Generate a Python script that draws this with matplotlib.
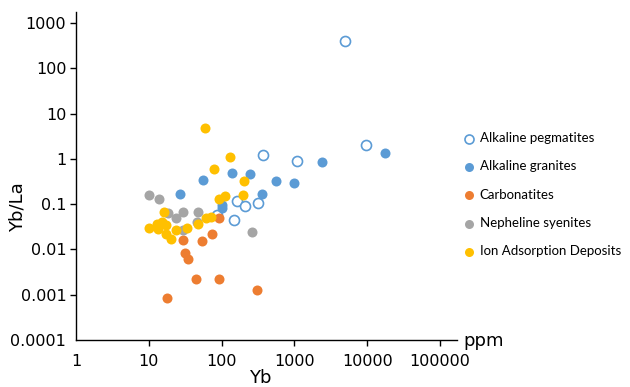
import numpy as np
import matplotlib.pyplot as plt

# Yb (ppm) vs Yb/La for REE deposit types
peg_yb = [5000, 370, 1100, 9500, 163, 210, 320, 149, 87]
peg_ratio = [400, 1.2, 0.88, 2.0, 0.12, 0.091, 0.107, 0.044, 0.057]

gran_yb = [2400, 17500, 560, 1000, 360, 139, 246, 55, 26.6, 101, 101]
gran_ratio = [0.85, 1.35, 0.32, 0.29, 0.17, 0.48, 0.46, 0.34, 0.17, 0.095, 0.083]

carb_yb = [92, 29.8, 53, 74.5, 31.4, 34.2, 45, 93, 303, 17.6]
carb_ratio = [0.049, 0.0161, 0.0151, 0.0215, 0.0082, 0.006, 0.0022, 0.0022, 0.00125, 0.00083]

neph_yb = [10.1, 13.9, 29.2, 23.6, 18.2, 48, 45.5, 29.5, 259]
neph_ratio = [0.16, 0.13, 0.066, 0.049, 0.063, 0.066, 0.041, 0.027, 0.024]

ion_yb = [59, 130, 79, 205, 199, 93, 111, 16.3, 10.1, 12.8, 15.0, 17.2, 13.3,
          17.1, 20.2, 23.4, 33.2, 48, 61, 71.5]
ion_ratio = [4.8, 1.1, 0.6, 0.33, 0.16, 0.13, 0.15, 0.068, 0.03, 0.036, 0.04,
             0.035, 0.028, 0.0215, 0.0172, 0.027, 0.03, 0.037, 0.05, 0.051]

blue = '#5B9BD5'
orange = '#ED7D31'
gray = '#A5A5A5'
yellow = '#FFC000'

fig = plt.figure(figsize=(6.3, 3.87), dpi=100)
ax = fig.add_axes([76 / 630, 47 / 387, 381 / 630, 328 / 387])

ms = 52
ax.scatter(peg_yb, peg_ratio, s=ms, facecolors='white', edgecolors=blue,
           linewidths=1.2, label='Alkaline pegmatites', zorder=3)
ax.scatter(gran_yb, gran_ratio, s=ms, color=blue, linewidths=0,
           label='Alkaline granites', zorder=3)
ax.scatter(carb_yb, carb_ratio, s=ms, color=orange, linewidths=0,
           label='Carbonatites', zorder=3)
ax.scatter(neph_yb, neph_ratio, s=ms, color=gray, linewidths=0,
           label='Nepheline syenites', zorder=3)
ax.scatter(ion_yb, ion_ratio, s=ms, color=yellow, linewidths=0,
           label='Ion Adsorption Deposits', zorder=3)

ax.set_xscale('log')
ax.set_yscale('log')
ax.set_xlim(1, 10 ** 5.234)
ax.set_ylim(1e-4, 10 ** 3.241)

xt = [1, 10, 100, 1000, 10000, 100000]
yt = [0.0001, 0.001, 0.01, 0.1, 1, 10, 100, 1000]
ax.set_xticks(xt)
ax.set_xticklabels([str(v) for v in xt])
ax.set_yticks(yt)
ax.set_yticklabels(['0.0001', '0.001', '0.01', '0.1', '1', '10', '100', '1000'])
ax.minorticks_off()
ax.tick_params(axis='both', direction='out', length=4, width=1, labelsize=11.5, pad=3)
ax.tick_params(axis='x', pad=6)
ax.xaxis.get_major_ticks()[0].tick1line.set_visible(False)
ax.yaxis.get_major_ticks()[0].tick1line.set_visible(False)

for side in ['top', 'right']:
    ax.spines[side].set_visible(False)
for side in ['left', 'bottom']:
    ax.spines[side].set_linewidth(1)

fig.text(18 / 630, 1 - 207 / 387, 'Yb/La', rotation=90, ha='center', va='center', fontsize=13)
fig.text(260 / 630, 1 - 378 / 387, 'Yb', ha='center', va='center', fontsize=13)
fig.text(463 / 630, 1 - 341 / 387, 'ppm', ha='left', va='center', fontsize=13)

ax.legend(loc='upper left', bbox_to_anchor=(463.7 / 630, 1 - 132 / 387),
          bbox_transform=fig.transFigure, frameon=False,
          prop={'family': 'Lato', 'size': 9.5}, labelspacing=1.24,
          handlelength=0.8, handletextpad=0.4, borderpad=0, borderaxespad=0,
          markerscale=0.9)

plt.savefig('out.png', dpi=100)
